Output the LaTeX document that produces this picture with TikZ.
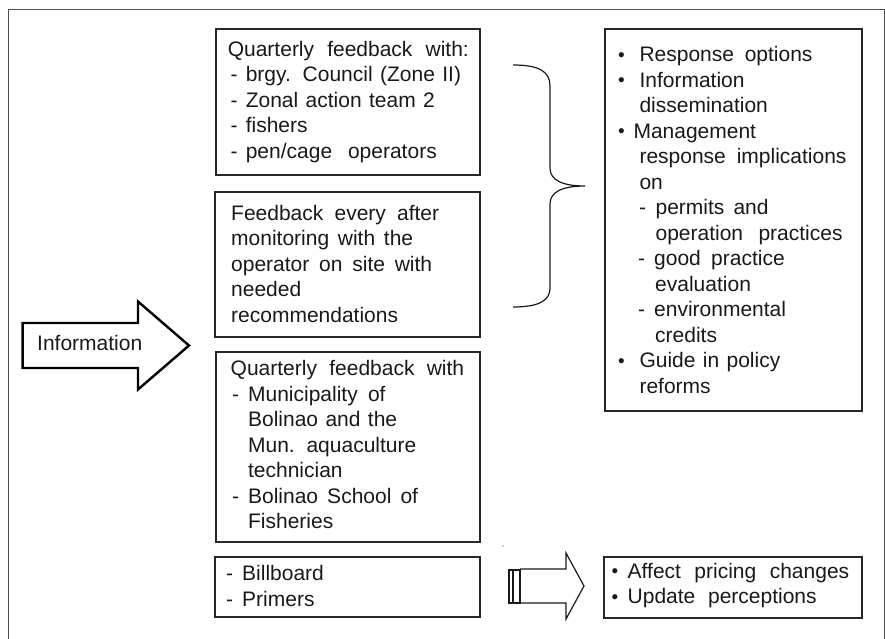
\documentclass[tikz,border=0pt]{standalone}
\usepackage{fontspec}
\setmainfont{Liberation Sans}[WordSpace=1.9]
% first-line strut: fixes the distance from node top to first baseline
\newcommand{\fs}{\rule{0pt}{17pt}}
% bullet in a box of given width
\newcommand{\bul}[1]{\makebox[#1pt][l]{{\fontsize{19}{19}\selectfont\raisebox{0.6pt}{\textbullet}}}}
% dash item: indent #1, text starts at #2
\newcommand{\dsh}[2]{\hspace*{#1pt}\makebox[\dimexpr#2pt-#1pt\relax][l]{-}}
\newcommand{\ind}[1]{\hspace*{#1pt}}
% line set to a given width by its word spaces
\newcommand{\jl}[2]{\makebox[#1pt][s]{#2}}
\begin{document}
\begin{tikzpicture}[x=1pt,y=-1pt,
  box/.style={draw=black!85, line width=2pt, inner sep=0pt},
  txt/.style={anchor=north west, inner sep=0pt, align=left,
    font=\fontsize{21}{25.5}\selectfont, text=black!90},
  bigarrow/.style={draw=black, line width=2.4pt, line join=miter},
  smallarrow/.style={draw=black!90, line width=1.2pt, line join=miter},
  brace/.style={draw=black!90, line width=1.2pt}]
\useasboundingbox (0,0) rectangle (885,639);

% outer frame
\draw[black!70, line width=0.9pt] (8,639) -- (8,9) -- (884,9) -- (884,639);

% boxes
\node[box, minimum width=264pt, minimum height=146pt] (q1) at (348,102) {};
\node[box, minimum width=265pt, minimum height=145pt] (fb) at (347.5,264.5) {};
\node[box, minimum width=264pt, minimum height=190pt] (q2) at (348,447) {};
\node[box, minimum width=265pt, minimum height=60pt] (bb) at (347.5,587) {};
\node[box, minimum width=257pt, minimum height=382pt] (resp) at (733.5,220) {};
\node[box, minimum width=258pt, minimum height=61pt] (price) at (733,587.5) {};

% box texts
\node[txt] (q1t) at (227.6,39) {\fs\jl{241}{Quarterly feedback with:}\\
  \dsh{2.9}{18}\jl{212}{brgy. Council (Zone II)}\\
  \dsh{2.9}{18}\jl{189}{Zonal action team 2}\\
  \dsh{2.9}{18}fishers\\
  \dsh{2.9}{18}\jl{191}{pen/cage operators}};
\node[txt] (fbt) at (231,203) {\fs\jl{208}{Feedback every after}\\
  \jl{182}{monitoring with the}\\
  \jl{201}{operator on site with}\\
  needed\\
  recommendations};
\node[txt] (q2t) at (230.5,358.7) {\fs\jl{233.5}{Quarterly feedback with}\\
  \dsh{1.5}{17.4}\jl{137.5}{Municipality of}\\
  \ind{17.4}\jl{149}{Bolinao and the}\\
  \ind{17.4}\jl{167}{Mun. aquaculture}\\
  \ind{17.4}technician\\
  \dsh{1.5}{17.4}\jl{170}{Bolinao School of}\\
  \ind{17.4}Fisheries};
\node[txt] (bbt) at (226,563.7) {\fs\dsh{0}{16}Billboard\\
  \dsh{0}{16}Primers};
\node[txt] (respt) at (618,44.5) {\fs\bul{21.3}\jl{173}{Response options}\\
  \bul{21.3}Information\\
  \ind{21.3}dissemination\\
  \bul{15.3}Management\\
  \ind{21.3}\jl{207}{response implications}\\
  \ind{21.3}on\\
  \dsh{21}{37.4}\jl{113}{permits and}\\
  \ind{37.4}\jl{187}{operation practices}\\
  \dsh{20}{36}\jl{130.5}{good practice}\\
  \ind{37}evaluation\\
  \dsh{20}{36}environmental\\
  \ind{37}credits\\
  \bul{21.3}\jl{138.5}{Guide in policy}\\
  \ind{21.3}reforms};
\node[txt] (pricet) at (611.5,561) {\fs\bul{16}\jl{221.5}{Affect pricing changes}\\
  \bul{16}\jl{189}{Update perceptions}};

% information arrow
\draw[bigarrow] (22.6,323) -- (138,323) -- (138,301.5) -- (189,345.5)
  -- (138,389.5) -- (138,368) -- (22.6,368) -- cycle;
\node[txt] (info) at (37,333) {\fs Information};

% brace gathering the two upper feedback boxes
\coordinate (bracetip) at (585,186);
\draw[brace] (513,65) .. controls (540,65) and (550,72) .. (550,86)
  -- (550,168) .. controls (550,180) and (562,186) .. (bracetip)
  .. controls (562,186) and (550,192) .. (550,204)
  -- (550,288) .. controls (550,300) and (540,307) .. (513,307);

% striped arrow towards the pricing box
\draw[smallarrow] (509,570) rectangle (512.3,603);
\draw[smallarrow] (513.5,570) rectangle (520,603);
\draw[smallarrow] (520,569) -- (566,569) -- (566,553) -- (584,586)
  -- (566,619) -- (566,603) -- (520,603);

% small speck
\fill[black!80] (503,546) circle (0.6);
\end{tikzpicture}
\end{document}
